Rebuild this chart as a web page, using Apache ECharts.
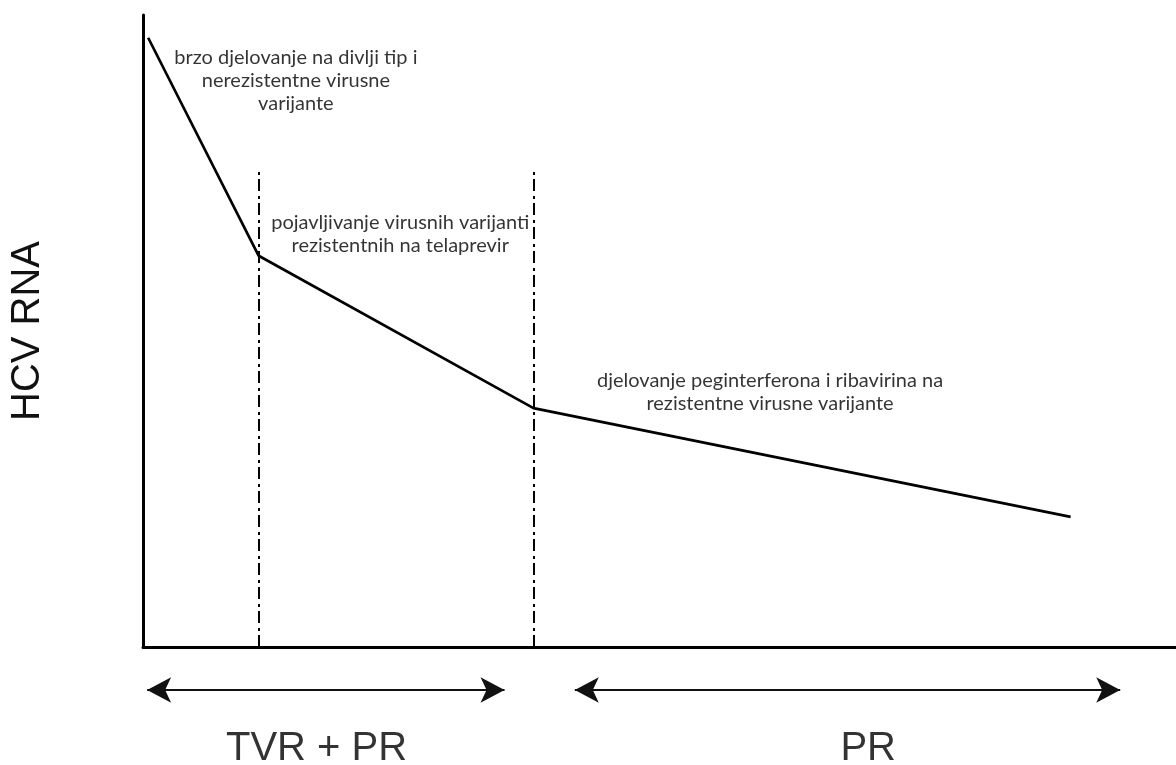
<!DOCTYPE html>
<html>
<head>
<meta charset="utf-8">
<script src="https://cdn.jsdelivr.net/npm/echarts@6/dist/echarts.min.js"></script>
<style>
  html, body { margin: 0; padding: 0; background: #fff; }
  #chart { width: 1176px; height: 765px; }
</style>
</head>
<body>
<div id="chart"></div>
<script>
// viral decline curve (arbitrary units)
const timePoints = [0.5, 11.2, 37.8, 89.8]
const hcvRna = [96.4, 61.9, 37.8, 20.6]

// phase boundaries (dash-dot lines)
const phaseBounds = [11.2, 37.8]
const boundTop = 75.5

// notes on the curve
const noteX = [14.8, 24.9, 60.7]
const noteY = [89.7, 65.3, 40.3]
const noteText = [
  'brzo djelovanje na divlji tip i\nnerezistentne virusne\nvarijante',
  'pojavljivanje virusnih varijanti\nrezistentnih na telaprevir',
  'djelovanje peginterferona i ribavirina na\nrezistentne virusne varijante'
]

// treatment arrows under the axis
const arrowFrom = [0.4, 41.8]
const arrowTo = [35.0, 94.6]
const arrowY = 75
const therapyLabels = ['TVR + PR', 'PR']
const therapyX = [16.8, 70.2]
const therapyY = 16

const myChart = echarts.init(document.getElementById('chart'))

const noteFont = 'Lato, "Open Sans", sans-serif'

const option = {
  animation: false,
  backgroundColor: '#fff',
  grid: [
    { left: 143, right: 0, top: 15, bottom: 118, outerBoundsMode: 'none', containLabel: false },
    { left: 143, right: 0, top: 665, bottom: 0, outerBoundsMode: 'none', containLabel: false }
  ],
  xAxis: [
    {
      gridIndex: 0,
      type: 'value',
      min: 0,
      max: 100,
      axisLine: { show: true, onZero: false, lineStyle: { color: '#000', width: 3 } },
      axisTick: { show: false },
      axisLabel: { show: false },
      splitLine: { show: false }
    },
    {
      gridIndex: 1,
      type: 'value',
      min: 0,
      max: 100,
      show: false
    }
  ],
  yAxis: [
    {
      gridIndex: 0,
      type: 'value',
      min: 0,
      max: 100,
      name: 'HCV RNA',
      nameLocation: 'middle',
      nameRotate: 90,
      nameGap: 95,
      nameTextStyle: {
        color: '#111',
        fontSize: 40,
        fontFamily: '"Liberation Sans", Arial, sans-serif'
      },
      axisLine: { show: true, lineStyle: { color: '#000', width: 3 } },
      axisTick: { show: false },
      axisLabel: { show: false },
      splitLine: { show: false }
    },
    {
      gridIndex: 1,
      type: 'value',
      min: 0,
      max: 100,
      show: false
    }
  ],
  series: [
    {
      name: 'HCV RNA',
      type: 'line',
      xAxisIndex: 0,
      yAxisIndex: 0,
      symbol: 'none',
      lineStyle: { color: '#000', width: 2.7 },
      data: timePoints.map((t, i) => [t, hcvRna[i]]),
      markLine: {
        silent: true,
        symbol: ['none', 'none'],
        label: { show: false },
        lineStyle: { color: '#000', width: 2, type: [12, 4, 3, 5] },
        data: phaseBounds.map(x => [{ coord: [x, 0] }, { coord: [x, boundTop] }])
      }
    },
    {
      name: 'napomene',
      type: 'scatter',
      xAxisIndex: 0,
      yAxisIndex: 0,
      symbolSize: 0,
      silent: true,
      label: {
        show: true,
        position: 'inside',
        color: '#000',
        fontSize: 20,
        lineHeight: 23,
        align: 'center',
        fontFamily: noteFont,
        formatter: p => p.data[2]
      },
      data: noteX.map((x, i) => [x, noteY[i], noteText[i]])
    },
    {
      name: 'terapija',
      type: 'scatter',
      xAxisIndex: 1,
      yAxisIndex: 1,
      symbolSize: 0,
      silent: true,
      label: {
        show: true,
        position: 'inside',
        color: '#000',
        fontSize: 40,
        fontFamily: '"Liberation Sans", Arial, sans-serif',
        formatter: p => p.data[2]
      },
      data: therapyX.map((x, i) => [x, therapyY, therapyLabels[i]]),
      markLine: {
        silent: true,
        symbol: ['arrow', 'arrow'],
        symbolSize: [19, 24],
        label: { show: false },
        lineStyle: { color: '#111', width: 2, type: 'solid' },
        data: arrowFrom.map((x, i) => [{ coord: [x, arrowY] }, { coord: [arrowTo[i], arrowY] }])
      }
    }
  ]
}

myChart.setOption(option)
</script>
</body>
</html>
